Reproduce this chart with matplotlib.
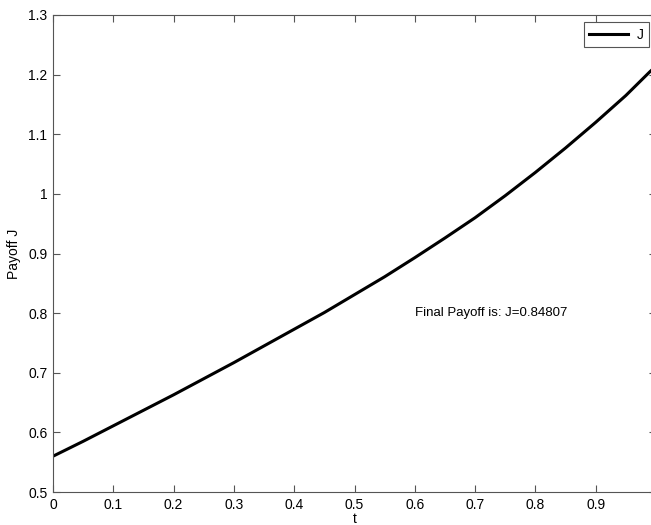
import numpy as np
import matplotlib.pyplot as plt

plt.rcParams['font.family'] = ['Liberation Sans', 'DejaVu Sans']
plt.rcParams['xtick.direction'] = 'in'
plt.rcParams['ytick.direction'] = 'in'

# payoff J
t = [0.00, 0.05, 0.10, 0.15, 0.20, 0.25, 0.30, 0.35, 0.40, 0.45, 0.50,
     0.55, 0.60, 0.65, 0.70, 0.75, 0.80, 0.85, 0.90, 0.95, 0.99, 1.00]
J = [0.560, 0.585, 0.611, 0.637, 0.663, 0.690, 0.717, 0.745, 0.773, 0.801, 0.831,
     0.861, 0.893, 0.926, 0.960, 0.997, 1.036, 1.077, 1.120, 1.165, 1.205, 1.214]

xticks = [0, 0.1, 0.2, 0.3, 0.4, 0.5, 0.6, 0.7, 0.8, 0.9]
xtick_labels = ['0', '0.1', '0.2', '0.3', '0.4', '0.5', '0.6', '0.7', '0.8', '0.9']
yticks = [0.5, 0.6, 0.7, 0.8, 0.9, 1.0, 1.1, 1.2, 1.3]
ytick_labels = ['0.5', '0.6', '0.7', '0.8', '0.9', '1', '1.1', '1.2', '1.3']

fig = plt.figure(figsize=(6.51, 5.25), dpi=100)
# axes run a little past the right edge of the picture, as in the original
ax = fig.add_axes([53 / 651, 33 / 525, 603 / 651, 477 / 525])

ax.plot(t, J, color='k', linewidth=2.2, label='J')
ax.text(0.6, 0.8, 'Final Payoff is: J=0.84807', fontsize=9.5, va='center', ha='left')

ax.set_xlim(0, 1.0)
ax.set_ylim(0.5, 1.3)
ax.set_xticks(xticks)
ax.set_xticklabels(xtick_labels)
ax.set_yticks(yticks)
ax.set_yticklabels(ytick_labels)
ax.tick_params(top=True, right=True, length=5, width=0.8, color='#555555',
               labelsize=10, pad=4)
for s in ax.spines.values():
    s.set_color('#555555')
    s.set_linewidth(0.8)

ax.set_xlabel('t', fontsize=10, labelpad=0)
ax.set_ylabel('Payoff J', fontsize=10, labelpad=5)

leg = ax.legend(loc='upper right', fontsize=10, handlelength=2.8,
                bbox_to_anchor=((649 - 53) / 603, 1 - 7 / 477), bbox_transform=ax.transAxes,
                borderaxespad=0, fancybox=False, framealpha=1, borderpad=0.4,
                handletextpad=0.6)
leg.get_frame().set_edgecolor('#555555')
leg.get_frame().set_linewidth(0.8)

plt.savefig('out.png', dpi=100)
